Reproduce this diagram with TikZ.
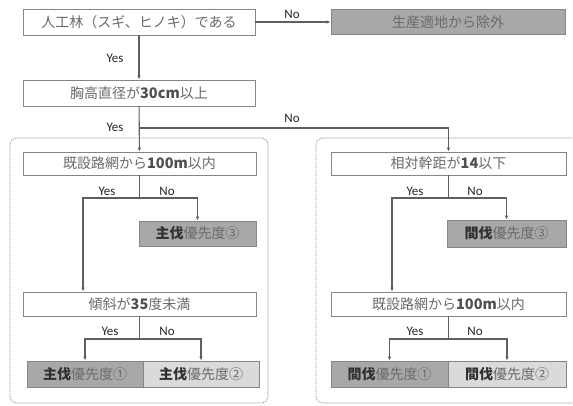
\documentclass[tikz,border=0pt]{standalone}
\usepackage{fontspec}
\setmainfont{Carlito}
\newfontfamily\jp{Noto Sans CJK JP}
\usetikzlibrary{arrows.meta}
\definecolor{ln}{HTML}{5F5F5F}
\definecolor{bd}{HTML}{858585}
\definecolor{tx}{HTML}{6A6A6A}
\definecolor{dk}{HTML}{303030}
\definecolor{bt}{HTML}{505050}
\definecolor{gA}{HTML}{A8A8A8}
\definecolor{gB}{HTML}{DADADA}
\newcommand{\bj}[1]{{\jp\bfseries\color{dk}#1}}
\newcommand{\bl}[1]{{\fontsize{14.5}{16}\selectfont\bfseries\color{bt}#1}}
\begin{document}
\begin{tikzpicture}[x=1pt,y=-1pt,
  box/.style={draw=bd,line width=0.9pt,inner sep=0pt,text=tx,font=\jp\fontsize{14}{16}\selectfont},
  wbox/.style={box,fill=white},
  gbox/.style={box,fill=gA},
  lbox/.style={box,fill=gB},
  arr/.style={draw=ln,line width=1.1pt,-{Latex[length=4pt,width=3.5pt]}},
  ln/.style={draw=ln,line width=1.1pt},
  lab/.style={font=\fontsize{13}{15}\selectfont,text=black!85,inner sep=0pt},
  grp/.style={draw=black!45,dashed,dash pattern=on 1.2pt off 0.8pt,line width=0.6pt,rounded corners=7pt}]
\useasboundingbox (0,0) rectangle (573,405);
\begin{scope}
\clip (0,0) rectangle (573,405);
\draw[grp] (10,138) rectangle (268,403);
\draw[grp] (316,138) rectangle (590,403);
\end{scope}
% nodes
\node[wbox,minimum width=232pt,minimum height=26pt] (n1) at (139,22) {人工林（スギ、ヒノキ）である};
\node[gbox,minimum width=234pt,minimum height=25pt] (ex) at (448,22) {生産適地から除外};
\node[wbox,minimum width=232pt,minimum height=26pt] (n2) at (139,93) {胸高直径が\bl{30cm}以上};
\node[wbox,minimum width=233pt,minimum height=23pt] (L1) at (139.5,163.5) {既設路網から\bl{100m}以内};
\node[gbox,minimum width=117pt,minimum height=25pt] (L3) at (197.5,233.5) {\bj{主伐}優先度③};
\node[wbox,minimum width=233pt,minimum height=24pt] (L2) at (139.5,304) {傾斜が\bl{35}度未満};
\node[gbox,minimum width=116pt,minimum height=26pt] (La) at (85,374) {\bj{主伐}優先度①};
\node[lbox,minimum width=116pt,minimum height=26pt] (Lb) at (201,374) {\bj{主伐}優先度②};
\node[wbox,minimum width=235pt,minimum height=23pt] (R1) at (448.5,163.5) {相対幹距が\bl{14}以下};
\node[gbox,minimum width=119pt,minimum height=27pt] (R3) at (506.5,233.5) {\bj{間伐}優先度③};
\node[wbox,minimum width=235pt,minimum height=24pt] (R2) at (448.5,304) {既設路網から\bl{100m}以内};
\node[gbox,minimum width=117pt,minimum height=26pt] (Ra) at (389.5,374) {\bj{間伐}優先度①};
\node[lbox,minimum width=118pt,minimum height=26pt] (Rb) at (507,374) {\bj{間伐}優先度②};
% junction coordinates
\coordinate (b0) at (139,128);
\coordinate (j1) at (139.5,198);
\coordinate (k1) at (83,198);
\coordinate (j2) at (139.5,339);
\coordinate (j3) at (448.5,198);
\coordinate (k3) at (392,198);
\coordinate (j4) at (448.5,339);
% connectors
\draw[arr] (n1) -- (ex);
\draw[arr] (n1) -- (n2);
\draw[arr] (n2) -- (L1);
\draw[arr] (b0) -| (R1.north);
\draw[ln] (L1.south) -- (j1);
\draw[arr] (j1) -| (L3.north);
\draw[arr] (j1) -- (k1) -- (k1 |- L2.north);
\draw[ln] (L2.south) -- (j2);
\draw[arr] (j2) -| (La.north);
\draw[arr] (j2) -| (Lb.north);
\draw[ln] (R1.south) -- (j3);
\draw[arr] (j3) -| (R3.north);
\draw[arr] (j3) -- (k3) -- (k3 |- R2.north);
\draw[ln] (R2.south) -- (j4);
\draw[arr] (j4) -| (Ra.north);
\draw[arr] (j4) -| (Rb.north);
% labels
\node[lab] (t1) at (292,14) {No};
\node[lab] (t2) at (115,58) {Yes};
\node[lab] (t3) at (115,127) {Yes};
\node[lab] (t4) at (292,118) {No};
\node[lab] (t5) at (107,191) {Yes};
\node[lab] (t6) at (167,191) {No};
\node[lab] (t7) at (110,331) {Yes};
\node[lab] (t8) at (167,331) {No};
\node[lab] (t9) at (415,191) {Yes};
\node[lab] (t10) at (475,191) {No};
\node[lab] (t11) at (415,331) {Yes};
\node[lab] (t12) at (475,331) {No};
\end{tikzpicture}
\end{document}
